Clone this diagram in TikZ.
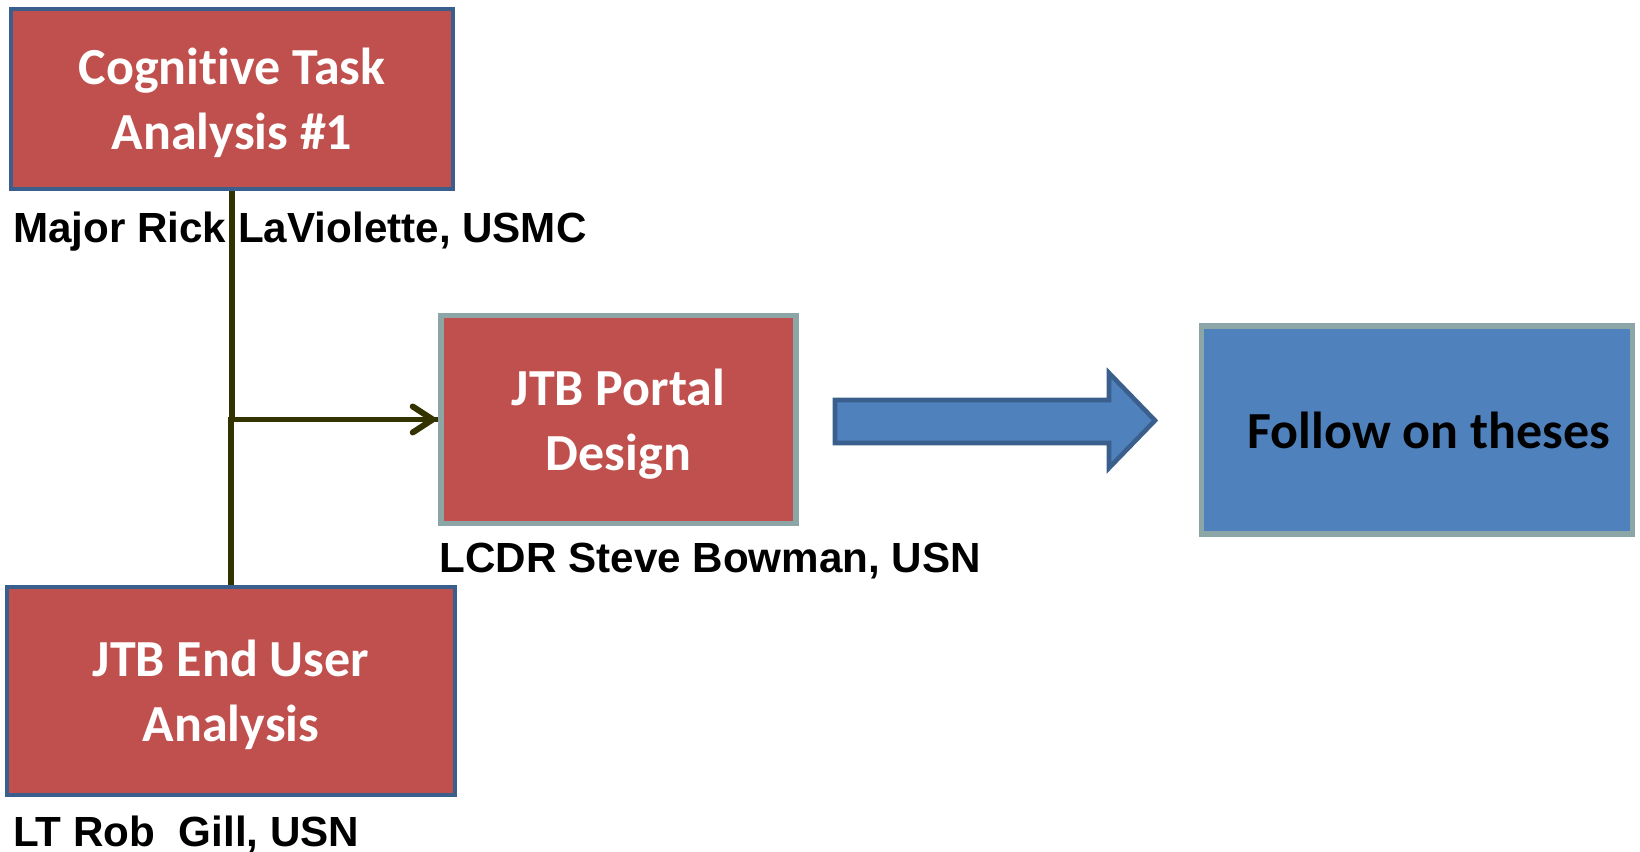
\documentclass[tikz,border=0pt]{standalone}
\usepackage{fontspec}
\setmainfont{Carlito}[Ligatures=NoCommon]
\newfontfamily\namefont{Liberation Sans}
\usetikzlibrary{arrows.meta}

\definecolor{boxred}{HTML}{C0504D}
\definecolor{boxblue}{HTML}{4F81BD}
\definecolor{edgeblue}{HTML}{3A5F8C}
\definecolor{edgegray}{HTML}{8CA6A8}
\definecolor{linkolive}{HTML}{333300}

\begin{document}
\begin{tikzpicture}[
					task/.style={draw=edgeblue, line width=1.4pt, fill=boxred, text=white, font=\fontsize{14.8}{18.4}\selectfont\bfseries, align=center, inner sep=0pt, text depth=0pt},
					study/.style={task, draw=edgegray, line width=1.6pt},
					who/.style={anchor=base west, inner sep=0pt, font=\namefont\fontsize{12}{14}\selectfont\bfseries},
					link/.style={draw=linkolive, line width=1.7pt}
				]
					\useasboundingbox (0,0) rectangle (16.4,8.52);
					
					\node[task, minimum width=4.42cm, minimum height=1.80cm] (cta) at (2.32,7.53) {Cognitive Task\\Analysis \#1};
					\node[study, minimum width=3.55cm, minimum height=2.08cm] (portal) at (6.185,4.325) {JTB Portal\\Design};
					\node[task, minimum width=4.48cm, minimum height=2.08cm] (enduser) at (2.31,1.61) {JTB End User\\Analysis};
					\node[study, fill=boxblue, text=black, minimum width=4.31cm, minimum height=2.08cm] (theses) at (14.17,4.22) {\hspace*{0.24cm}Follow on theses};
					
					\node[who] (ctaname) at (0.125,6.09) {Major Rick LaViolette, USMC};
					\node[who] (portalname) at (4.39,2.79) {LCDR Steve Bowman, USN};
					\node[who] (endusername) at (0.125,0.05) {LT Rob~~Gill, USN};
					
					\draw[link, -{Straight Barb[length=2mm, width=2.6mm, line cap=round]}] (cta.south) |- (portal.west);
					\draw[link] (enduser.north) |- (portal.west);
					
					\coordinate (A) at (8.35,4.52);
					\coordinate (B) at (11.09,4.52);
					\coordinate (C) at (11.09,4.79);
					\coordinate (D) at (11.55,4.315);
					\coordinate (E) at (11.09,3.84);
					\coordinate (F) at (11.09,4.09);
					\coordinate (G) at (8.35,4.09);
					\filldraw[fill=boxblue, draw=edgeblue, line width=1.3pt] (A) -- (B) -- (C) -- (D) -- (E) -- (F) -- (G) -- cycle;
					
				\end{tikzpicture}
\end{document}
